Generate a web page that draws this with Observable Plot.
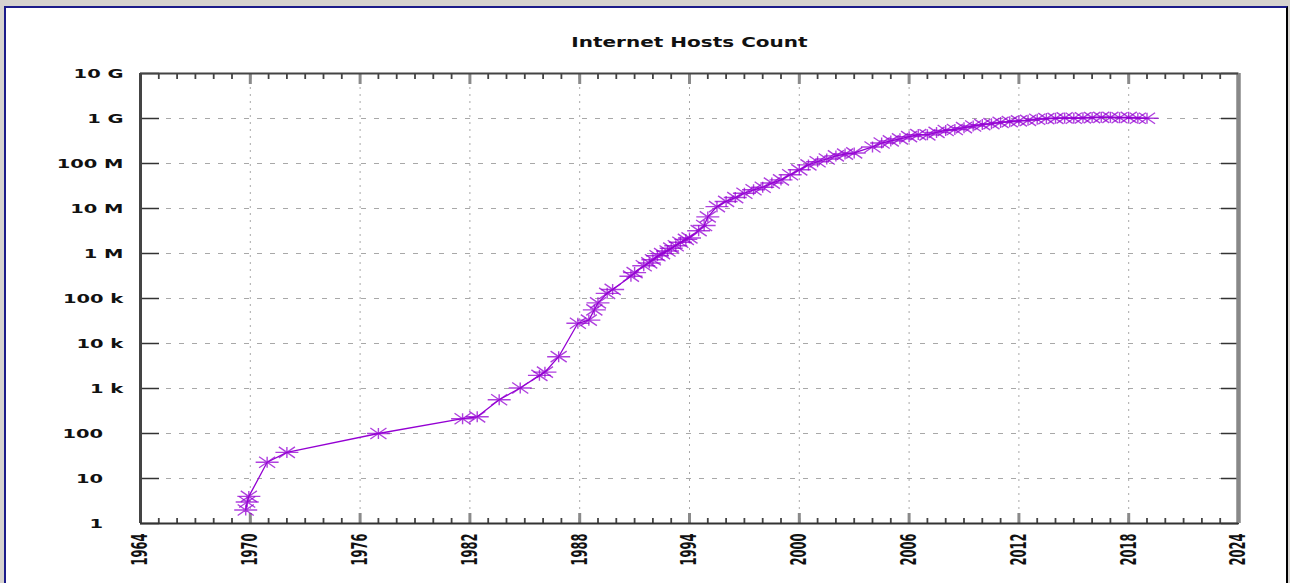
<!DOCTYPE html>
<html><head><meta charset="utf-8">
<script src="https://cdn.jsdelivr.net/npm/d3@7"></script>
<script src="https://cdn.jsdelivr.net/npm/@observablehq/plot@0.6"></script>
<style>
html,body{margin:0;padding:0;width:1290px;height:583px;overflow:hidden;background:#d6d3cf;}
#frame{position:absolute;left:4px;top:6px;width:1280px;height:600px;background:#fff;border-top:2px solid #1c1c8a;border-left:2px solid #1c1c8a;border-right:2px solid #000;}
#chart{position:absolute;left:0;top:0;}
</style></head><body><div id="frame"></div><div id="chart"></div>
<script>
const title = "Internet Hosts Count";
const years = [1969.75, 1969.83, 1969.92, 1970.92, 1972.0, 1977.0, 1981.6, 1982.4, 1983.6, 1984.75,
  1985.8, 1986.1, 1986.85, 1987.9, 1988.5, 1988.8, 1989.0, 1989.5, 1989.8, 1990.8,
  1991.0, 1991.5, 1991.8, 1992.0, 1992.25, 1992.5, 1992.8, 1993.0, 1993.25, 1993.5,
  1993.8, 1994.0, 1994.5, 1994.8, 1995.0, 1995.5, 1996.0, 1996.5, 1997.0, 1997.5,
  1998.0, 1998.5, 1999.0, 1999.5, 2000.0, 2000.5, 2001.0, 2001.5, 2002.0, 2002.5,
  2003.0, 2004.0, 2004.5, 2005.0, 2005.5, 2006.0, 2006.5, 2007.0, 2007.5, 2008.0,
  2008.5, 2009.0, 2009.5, 2010.0, 2010.5, 2011.0, 2011.5, 2012.0, 2012.5, 2013.0,
  2013.5, 2014.0, 2014.5, 2015.0, 2015.5, 2016.0, 2016.5, 2017.0, 2017.5, 2018.0,
  2018.5, 2019.0];
const hosts = [2, 3, 4, 23, 38, 100, 213, 235, 562, 1024,
  1961, 2308, 5089, 28174, 33000, 56000, 80000, 130000, 159000, 313000,
  376000, 535000, 617000, 727000, 890000, 992000, 1136000, 1313000, 1486000, 1776000,
  2056000, 2217000, 3212000, 4200000, 6500000, 11000000, 14352000, 17500000, 21819000, 26053000,
  29670000, 36739000, 43230000, 56218000, 72398092, 93047785, 109574429, 125888197, 147344723, 162128493,
  171638297, 233101481, 285139107, 317646084, 353284187, 394991609, 439286364, 433193199, 489774269, 541677360,
  570937778, 625226456, 681064561, 732740444, 768913036, 818374269, 849869781, 888239420, 908585739, 963518598,
  996230757, 1010251829, 1028544414, 1012706724, 1033000000, 1048766623, 1062000000, 1062660523, 1040000000, 1060000000,
  1015000000, 1013000000];
const xDomain = [1964, 2024];
const xMajorTicks = [1964, 1970, 1976, 1982, 1988, 1994, 2000, 2006, 2012, 2018, 2024];
const xMinorTicks = d3.range(1964, 2025, 1);
const yDomain = [1, 1e10];
const yTicks = [1, 10, 100, 1e3, 1e4, 1e5, 1e6, 1e7, 1e8, 1e9, 1e10];
const yTickLabels = ["1", "10", "100", "1 k", "10 k", "100 k", "1 M", "10 M", "100 M", "1 G", "10 G"];

const data = years.map((y, i) => ({year: y, hosts: hosts[i]}));
const violet = "#9400d3";
const asterisk = {
  draw(ctx) {
    const w = 11.5, h = 5.5;
    ctx.moveTo(-w, 0); ctx.lineTo(w, 0);
    ctx.moveTo(0, -h); ctx.lineTo(0, h);
    ctx.moveTo(-w * 0.7, -h); ctx.lineTo(w * 0.7, h);
    ctx.moveTo(-w * 0.7, h); ctx.lineTo(w * 0.7, -h);
  }
};

const svg = Plot.plot({
  width: 1290, height: 583,
  marginLeft: 140, marginRight: 52, marginTop: 73, marginBottom: 60,
  style: {background: "transparent", fontFamily: "DejaVu Sans", overflow: "visible"},
  x: {domain: xDomain, label: null},
  y: {type: "log", domain: yDomain, label: null},
  marks: [
    Plot.gridY(yTicks, {stroke: "#a8a8a8", strokeOpacity: 1, strokeDasharray: "5,8"}),
    Plot.gridX(xMajorTicks, {stroke: "#a8a8a8", strokeOpacity: 1, strokeDasharray: "2,5"}),
    Plot.axisY(yTicks, {anchor: "left", tickSize: 19, dx: 19, tickPadding: 17, label: null,
      tickFormat: d => { const s = yTickLabels[yTicks.indexOf(d)]; return d < 1000 ? s + "\u00a0\u00a0\u00a0" : s; },
      stroke: "#333", strokeWidth: 1.5, fill: "#111", fontSize: 13, fontWeight: "bold"}),
    Plot.axisY(yTicks, {anchor: "right", tickSize: 18, dx: -18, fill: "none", label: null, stroke: "#333", strokeWidth: 1.5}),
    Plot.axisX(xMinorTicks, {anchor: "bottom", tickSize: 5, dy: -5, fill: "none", label: null, stroke: "#444", strokeWidth: 1.8}),
    Plot.axisX(xMinorTicks, {anchor: "top", tickSize: 5, dy: 5, fill: "none", label: null, stroke: "#444", strokeWidth: 1.8}),
    Plot.axisX(xMajorTicks, {anchor: "bottom", tickSize: 10, dy: -10, tickPadding: 10, tickRotate: -90,
      textAnchor: "end", lineAnchor: "middle", label: null, tickFormat: d => String(d),
      stroke: "#8a8a8a", strokeWidth: 3, fill: "#111", fontSize: 11.5, fontWeight: "bold"}),
    Plot.axisX(xMajorTicks, {anchor: "top", tickSize: 10, dy: 10, fill: "none", label: null, stroke: "#8a8a8a", strokeWidth: 3}),
    Plot.ruleX([xDomain[0]], {stroke: "#444", strokeWidth: 3}),
    Plot.ruleX([xDomain[1]], {stroke: "#888", strokeWidth: 4.5}),
    Plot.ruleY([yDomain[0]], {stroke: "#333", strokeWidth: 2}),
    Plot.ruleY([yDomain[1]], {stroke: "#444", strokeWidth: 2}),
    Plot.line(data, {x: "year", y: "hosts", stroke: violet, strokeWidth: 1.3}),
    Plot.dot(data, {x: "year", y: "hosts", symbol: asterisk, fill: "none", stroke: violet, strokeWidth: 1.4, strokeOpacity: 0.75}),
    Plot.text([title], {frameAnchor: "top", dy: -31, lineAnchor: "middle", fontSize: 14, fontWeight: "bold", fill: "#111"})
  ]
});
document.getElementById("chart").appendChild(svg);

// widen glyphs horizontally, as in the stretched reference image
function stretch(nodes, sx, originX) {
  nodes.forEach(t => {
    if (!t.textContent.trim()) return;
    const r = t.getBoundingClientRect();
    const parent = t.parentNode;
    const m = parent.getScreenCTM().inverse();
    const p = new DOMPoint(originX(r), r.top + r.height / 2).matrixTransform(m);
    const g = document.createElementNS("http://www.w3.org/2000/svg", "g");
    g.setAttribute("transform", `translate(${p.x},${p.y}) scale(${sx},1) translate(${-p.x},${-p.y})`);
    parent.insertBefore(g, t);
    g.appendChild(t);
  });
}
stretch([...svg.querySelectorAll('[aria-label="y-axis tick label"] text')], 1.5, r => r.right);
stretch([...svg.querySelectorAll('[aria-label="x-axis tick label"] text')], 1.8, r => r.left + r.width / 2);
stretch([...svg.querySelectorAll('[aria-label="text"] text')], 1.43, r => r.left + r.width / 2);
</script></body></html>
